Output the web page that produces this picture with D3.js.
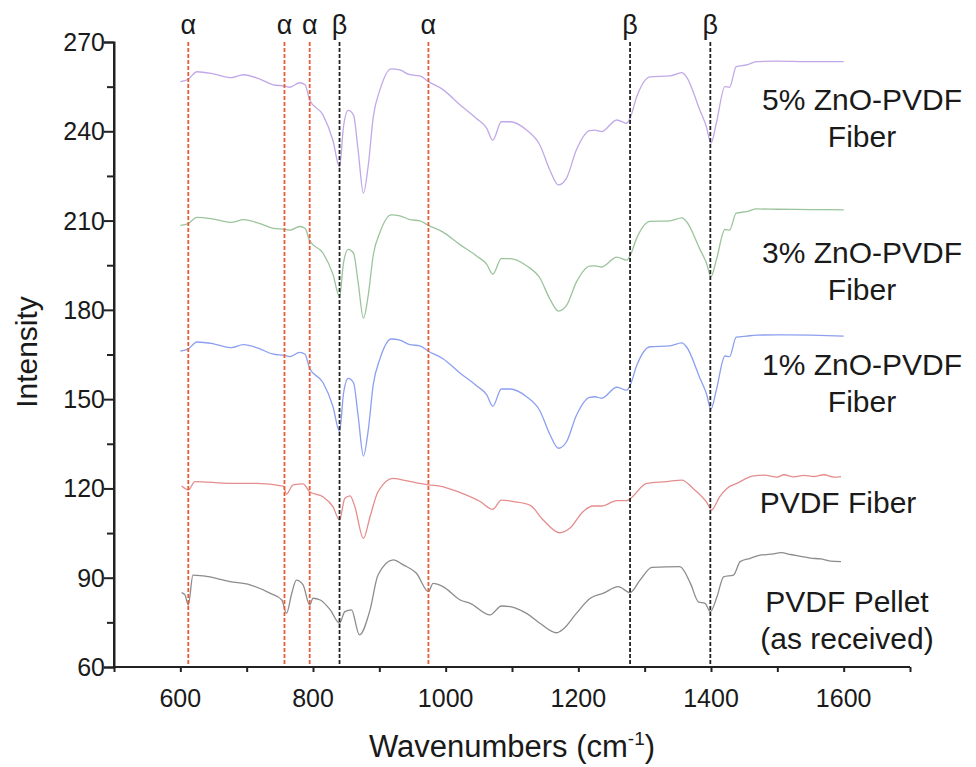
<!DOCTYPE html>
<head>
  <meta charset="utf-8">
  <style>
    body { margin: 0; background: #fff; }
    svg text { font-family: "Liberation Sans", Arial, sans-serif; fill: #1a1a1a; }
  </style>
</head>
<body>
  <svg width=976 height=767 id="chart"></svg>
  <script src="https://d3js.org/d3.v7.min.js"></script>
  <script>
    // wavenumber grid shared by the three ZnO fiber spectra
    let wnGrid = [600, 612, 625, 650, 677, 695, 720, 740, 757, 765, 780, 788, 795, 815, 830, 840, 846, 853, 861, 868,
      876, 883, 891, 901, 918, 931, 946, 961, 974, 996, 1021, 1046, 1062, 1071, 1084, 1097, 1122, 1142, 1157, 1170,
      1182, 1197, 1217, 1225, 1235, 1258, 1273, 1278, 1288, 1308, 1338, 1356, 1363, 1383, 1393, 1400, 1408, 1421,
      1428, 1438, 1454, 1469, 1500, 1550, 1600];

    let zno5 = [256.7, 257.5, 260, 259.3, 258, 259, 257.5, 255.6, 255.2, 254.8, 256.3, 255.6, 250.5, 245.5, 237, 228,
      241.6, 247, 245.5, 233.7, 219.2, 228, 245, 254, 261, 260.6, 259, 258.6, 256.7, 254, 249, 244.4, 241, 237, 243.2,
      243.2, 240.4, 235.4, 227, 222, 224.2, 233.7, 240.2, 240.4, 239.9, 243.8, 242.7, 244.4, 251.6, 258.3, 258.6,
      259.7, 258.3, 247.2, 241.6, 236, 242.7, 255, 254.8, 261.7, 262.3, 263.4, 263.6, 263.4, 263.4];

    let zno3 = [208.4, 209.0, 211.1, 210.5, 209.4, 210.3, 209.0, 207.4, 207.1, 206.8, 208.0, 207.4, 203.2, 199.1, 192.0,
      184.5, 195.8, 200.3, 199.1, 189.3, 177.2, 184.5, 198.6, 206.1, 211.9, 211.6, 210.3, 209.9, 208.4, 206.1, 202.0,
      198.2, 195.3, 192.0, 197.2, 197.2, 194.8, 190.7, 183.7, 179.6, 181.4, 189.3, 194.7, 194.8, 194.4, 197.7, 196.7,
      198.2, 204.1, 209.7, 209.9, 210.9, 209.7, 200.5, 195.8, 191.2, 196.7, 207.0, 206.8, 212.5, 213.0, 213.9, 213.8,
      213.7, 213.6];

    let zno1 = [166.1, 166.9, 169.2, 168.6, 167.3, 168.3, 166.9, 165.1, 164.7, 164.3, 165.7, 165.1, 160.3, 155.6, 147.6,
      139.1, 151.9, 157.0, 155.6, 144.5, 130.9, 139.1, 155.1, 163.6, 170.2, 169.8, 168.3, 167.9, 166.1, 163.6, 158.9,
      154.6, 151.4, 147.6, 153.4, 153.4, 150.8, 146.1, 138.2, 133.5, 135.6, 144.5, 150.6, 150.8, 150.3, 154.0, 153.0,
      154.6, 161.3, 167.6, 167.9, 168.9, 167.6, 157.2, 151.9, 146.7, 153.0, 164.5, 164.3, 170.8, 171.2, 171.5, 171.6,
      171.5, 171.2];

    // PVDF fiber and pellet were read on their own points
    let fiber = [[602, 120.8], [612, 119.5], [622, 122.3], [675, 121.7], [715, 121.7], [755, 120.8], [760, 118.1],
      [770, 121.2], [785, 121.5], [795, 118.9], [815, 117.2], [830, 113.9], [840, 109.4], [848, 116.7], [856, 117.5],
      [863, 113.9], [876, 103.2], [886, 110.5], [898, 118.9], [921, 123.4], [936, 122.8], [956, 121.9], [974, 121.2],
      [991, 120.8], [1022, 118.6], [1052, 115.6], [1071, 113], [1084, 116.1], [1102, 115.6], [1127, 114.4],
      [1147, 109.4], [1172, 105.1], [1187, 106.6], [1207, 112.2], [1222, 114.1], [1235, 114.1], [1258, 115.9],
      [1273, 115.9], [1279, 116.7], [1303, 121.7], [1333, 122.3], [1356, 122.8], [1373, 120], [1393, 115.5],
      [1401, 112.8], [1413, 117.2], [1424, 120], [1439, 121.7], [1464, 124.2], [1480, 124.5], [1500, 123.8],
      [1510, 124.6], [1525, 123.9], [1540, 124.4], [1555, 124.0], [1570, 124.6], [1585, 123.8], [1596, 124]];

    let pellet = [[602, 85], [607, 84.2], [612, 80.8], [619, 90.9], [635, 90.6], [675, 88.7], [705, 87.6], [735, 84.8],
      [753, 82.5], [760, 78], [768, 84.8], [775, 89.2], [785, 87.6], [795, 80.8], [800, 83.1], [811, 82.5],
      [826, 79.2], [840, 74.7], [848, 78.6], [858, 79.2], [870, 70.8], [886, 79.2], [898, 90.9], [921, 96],
      [936, 94.3], [956, 91.5], [974, 85.3], [981, 88.1], [996, 87], [1022, 82.5], [1037, 81.4], [1067, 77.5],
      [1084, 80.5], [1097, 80.3], [1122, 78], [1142, 74.7], [1167, 71.5], [1177, 72.7], [1197, 78], [1218, 83.1],
      [1238, 84.8], [1260, 87], [1278, 85], [1293, 89.2], [1311, 93.5], [1353, 93.7], [1369, 88.1], [1381, 81.9],
      [1391, 81.4], [1399, 78.6], [1409, 83.6], [1419, 90.3], [1434, 90.9], [1444, 95.4], [1459, 96.5], [1474, 97.6],
      [1490, 97.9], [1506, 98.4], [1520, 97.8], [1535, 97.2], [1550, 96.6], [1565, 96.3], [1580, 95.6], [1596, 95.4]];

    let alphaBands = [612, 757, 795, 974];
    let betaBands = [840, 1278, 1399];

    let yTicks = [60, 90, 120, 150, 180, 210, 240, 270];
    let xTicks = [600, 800, 1000, 1200, 1400, 1600];

    let svg = d3.select("#chart");
    let x = d3.scaleLinear().domain([500, 1700]).range([114, 910]);
    let y = d3.scaleLinear().domain([60, 270]).range([667, 42]);

    let line = d3.line().curve(d3.curveMonotoneX).x(d => x(d[0])).y(d => y(d[1]));

    let series = [
      { pts: pellet, color: "#8c8c8c" },
      { pts: fiber, color: "#e58d8d" },
      { pts: wnGrid.map((w, i) => [w, zno1[i]]), color: "#8c9ff0" },
      { pts: wnGrid.map((w, i) => [w, zno3[i]]), color: "#9cc49c" },
      { pts: wnGrid.map((w, i) => [w, zno5[i]]), color: "#c1a8e8" }
    ];

    svg.append("g").selectAll("path")
      .data(series)
      .enter().append("path")
        .attr("d", d => line(d.pts))
        .attr("fill", "none")
        .attr("stroke", d => d.color)
        .attr("stroke-width", 1.3);

    // band markers
    let bands = alphaBands.map(b => ({ wn: b, sym: "α", color: "#eb5a38" }))
      .concat(betaBands.map(b => ({ wn: b, sym: "β", color: "#222" })));

    svg.append("g").selectAll("line")
      .data(bands)
      .enter().append("line")
        .attr("x1", d => x(d.wn)).attr("x2", d => x(d.wn))
        .attr("y1", y(270)).attr("y2", y(60))
        .attr("stroke", d => d.color)
        .attr("stroke-width", 1.8)
        .attr("stroke-dasharray", "4,2");

    svg.append("g").selectAll("text")
      .data(bands)
      .enter().append("text")
        .attr("x", d => x(d.wn))
        .attr("y", 34)
        .attr("text-anchor", "middle")
        .style("font-size", "27px")
        .text(d => d.sym);

    // axes
    let xAxis = svg.append("g").attr("transform", "translate(0," + y(60) + ")")
      .call(d3.axisBottom(x).tickValues(d3.range(500, 1701, 100)).tickSize(5).tickFormat(""));
    let yAxis = svg.append("g").attr("transform", "translate(" + x(500) + ",0)")
      .call(d3.axisLeft(y).tickValues(d3.range(75, 270, 30)).tickSize(7).tickFormat(""));
    svg.append("g").attr("transform", "translate(" + x(500) + ",0)")
      .call(d3.axisLeft(y).tickValues(yTicks).tickSize(10).tickFormat(""));

    svg.selectAll(".domain").attr("stroke", "#222").attr("stroke-width", 2);
    svg.selectAll(".tick line").attr("stroke", "#222").attr("stroke-width", 2);
    xAxis.select(".domain").attr("d", "M" + x(500) + ",0H" + x(1700));
    yAxis.select(".domain").attr("d", "M0," + y(60) + "V" + y(270));

    svg.append("g").selectAll("text")
      .data(xTicks)
      .enter().append("text")
        .attr("x", d => x(d))
        .attr("y", 707)
        .attr("text-anchor", "middle")
        .style("font-size", "25px")
        .text(d => d);

    svg.append("g").selectAll("text")
      .data(yTicks)
      .enter().append("text")
        .attr("x", 105)
        .attr("y", d => y(d) + 9)
        .attr("text-anchor", "end")
        .style("font-size", "25px")
        .text(d => d);

    svg.append("text")
      .attr("transform", "translate(37,352) rotate(-90)")
      .attr("text-anchor", "middle")
      .style("font-size", "30px")
      .text("Intensity");

    let xt = svg.append("text")
      .attr("x", 512).attr("y", 757)
      .attr("text-anchor", "middle")
      .style("font-size", "31px");
    xt.append("tspan").text("Wavenumbers (cm");
    xt.append("tspan").attr("dy", -12).style("font-size", "19px").text("-1");
    xt.append("tspan").attr("dy", 12).text(")");

    // series labels
    let labels = [
      { lines: ["5% ZnO-PVDF", "Fiber"], x: 862, y: 110 },
      { lines: ["3% ZnO-PVDF", "Fiber"], x: 862, y: 263 },
      { lines: ["1% ZnO-PVDF", "Fiber"], x: 862, y: 375 },
      { lines: ["PVDF Fiber"], x: 838, y: 513 },
      { lines: ["PVDF Pellet", "(as received)"], x: 847, y: 612 }
    ];
    labels.forEach(l => {
      let t = svg.append("text")
        .attr("x", l.x).attr("y", l.y)
        .attr("text-anchor", "middle")
        .style("font-size", "30px");
      l.lines.forEach((s, i) => {
        t.append("tspan").attr("x", l.x).attr("dy", i ? 37 : 0).text(s);
      });
    });
  </script>
</body>
